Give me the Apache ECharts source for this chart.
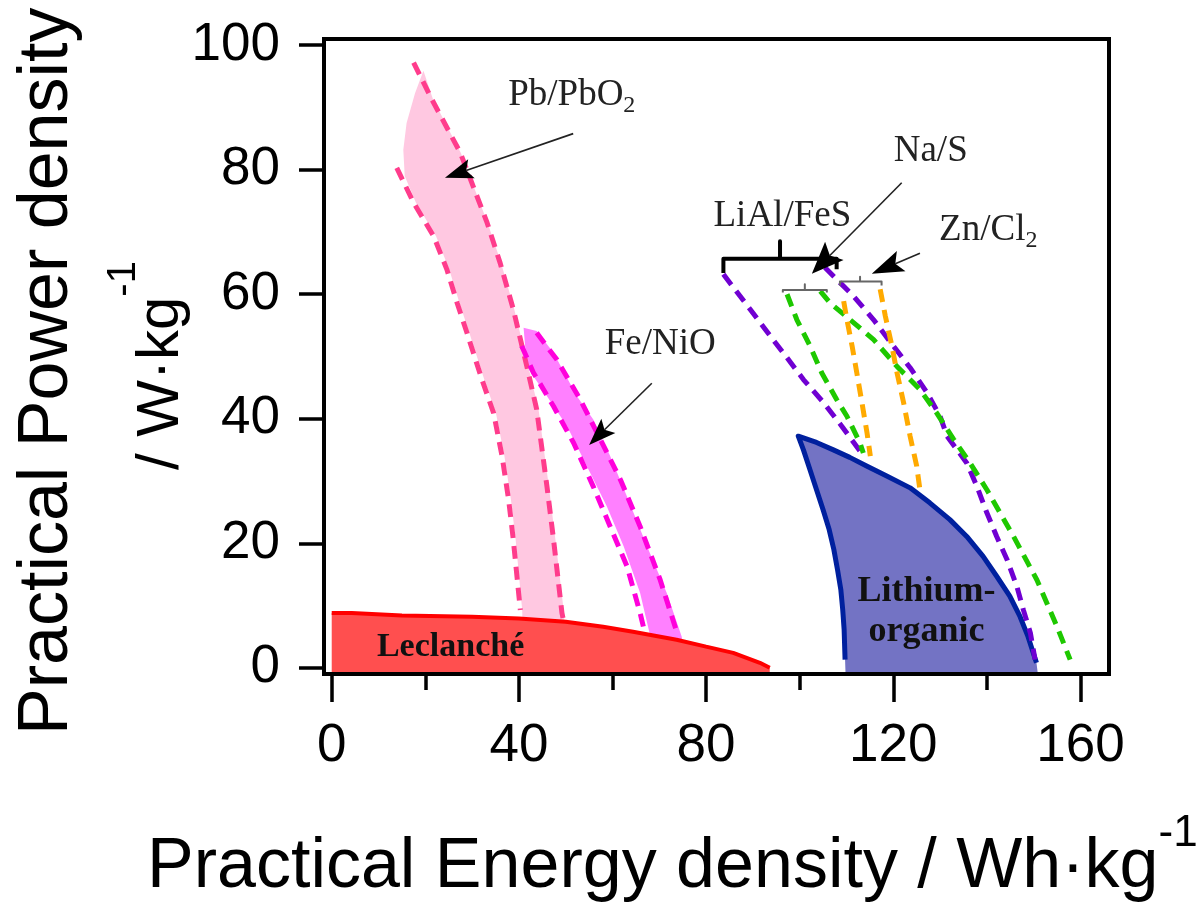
<!DOCTYPE html>
<html>
<head>
<meta charset="utf-8">
<script src="https://cdn.jsdelivr.net/npm/echarts@6/dist/echarts.min.js"></script>
<style>
  html, body { margin: 0; padding: 0; background: #fff; }
  #chart { width: 1200px; height: 909px; }
</style>
</head>
<body>
<div id="chart"></div>
<script>
// ---- axes: the frame sits a little outside the 0..160 / 0..100 range ----
const xRange = [-1.65, 166.1];
const yRange = [-1.0, 101.0];
const xMajorTicks = [0, 40, 80, 120, 160];
const xMinorTicks = [20, 60, 100, 140];
const yTicks = [0, 20, 40, 60, 80, 100];

// ---- Leclanché: upper boundary of the region (energy, power) ----
const leclancheTop = [[0, 8.8], [4.3, 8.8], [4.6, 8.5], [15, 8.4], [30, 8.2], [40, 7.9], [50, 7.4],
  [58, 6.6], [64.4, 5.8], [73.7, 4.5], [80, 3.4], [85.8, 2.4], [91.5, 0.8], [93.6, 0]];

// ---- Pb/PbO2 band ----
const pbBand = [[19.6, 95.9], [21.6, 91.4], [27.6, 82.7], [33.3, 71.5], [36.2, 65.0], [39.0, 57.6],
  [42.0, 48.4], [44.2, 41.5], [46.4, 29.1], [47.8, 20.6], [49.6, 9.0], [49.8, 6.5], [40.8, 6.5],
  [40.7, 9.3], [39.3, 20.6], [38.3, 27.0], [36.9, 34.0], [35.1, 40.9], [32.6, 46.3], [29.4, 53.8],
  [27.3, 58.6], [25.1, 64.0], [22.3, 69.3], [18.0, 74.7], [15.6, 79.0], [15.3, 83.2], [16.0, 87.5],
  [17.8, 92.3]];
const pbUpper = [[17.5, 97.2], [21.4, 91.3], [27.5, 82.7], [33.2, 71.5], [36.0, 65.0], [38.8, 57.6],
  [41.7, 48.4], [43.8, 41.5], [46.0, 29.1], [47.4, 20.6], [49.2, 8.8], [49.5, 7.7]];
const pbLower = [[13.9, 80.3], [17.5, 74.7], [21.8, 69.3], [24.6, 64.0], [26.8, 58.6], [28.9, 53.8],
  [32.1, 46.3], [34.6, 40.9], [36.4, 34.0], [37.8, 27.0], [38.8, 20.6], [40.3, 9.3]];

// ---- Fe/NiO band ----
const feBand = [[41.0, 54.6], [43.8, 54.1], [47.4, 50.6], [52.4, 43.6], [55.9, 39.9], [59.5, 34.0],
  [63.1, 27.5], [67.4, 19.5], [71.6, 12.0], [74.8, 5.0], [75.0, 3.5], [67.8, 3.5], [68.0, 5.3],
  [65.9, 12.0], [62.4, 19.5], [58.8, 25.9], [54.5, 32.4], [50.3, 38.8], [46.0, 43.6], [41.7, 48.4]];
const feUpper = [[43.8, 53.8], [48.1, 49.5], [53.1, 43.1], [57.4, 36.7], [61.7, 30.2], [65.9, 22.7],
  [70.2, 14.1], [73.8, 5.6]];
const feLower = [[40.6, 51.7], [43.1, 47.4], [47.4, 42.0], [51.7, 36.1], [55.9, 29.1], [59.5, 22.7],
  [63.1, 16.3], [65.9, 8.8], [66.6, 6.6]];

// ---- Lithium-organic region ----
const liOrgLeftEdge = [[109.8, -1.0], [109.7, 1.3], [109.5, 6.1], [109.2, 9.3], [108.8, 12.5],
  [108.1, 15.7], [107.3, 19.0], [106.3, 22.2], [105.0, 25.4], [103.6, 28.6], [102.2, 31.8],
  [100.8, 35.0], [99.7, 37.2]];
const liOrgRightEdge = [[99.7, 37.2], [103.6, 36.2], [107.2, 35.0], [110.7, 33.8], [114.3, 32.4],
  [118.6, 30.8], [123.6, 28.9], [127.8, 26.5], [132.1, 23.8], [135.7, 21.1], [139.2, 17.9],
  [142.1, 14.7], [144.9, 11.5], [147.1, 8.2], [148.8, 5.0], [150.6, 0.8], [150.9, -1.0]];

// ---- high-temperature systems (dashed envelopes) ----
const liAlLeft = [[83.7, 63.2], [89.4, 57.6], [93.7, 53.3], [97.3, 49.8], [100.8, 46.3], [105.1, 42.6],
  [109.0, 38.8], [113.5, 34.2]];
const liAlRight = [[105.4, 64.3], [107.9, 62.4], [111.5, 59.7], [115.8, 55.9], [120.0, 51.7], [123.6, 48.2],
  [127.2, 44.2], [130.0, 40.4], [131.5, 37.2], [135.7, 32.9], [137.9, 29.1], [140.0, 24.9], [142.1, 21.1],
  [144.3, 17.4], [146.4, 13.1], [147.8, 9.3], [149.3, 5.6], [150.3, 1.3]];
const naSLeft = [[97.3, 60.0], [99.4, 55.9], [102.2, 51.7], [104.7, 47.4], [107.9, 43.1], [110.1, 40.4],
  [112.9, 36.1], [113.6, 34.5]];
const naSRight = [[104.4, 60.5], [106.5, 58.6], [110.8, 55.9], [115.8, 52.7], [120.8, 48.4], [125.7, 44.7],
  [129.3, 40.9], [132.9, 36.7], [136.4, 32.9], [140.0, 28.6], [145.7, 21.1], [150.7, 14.1], [155.0, 6.6],
  [157.8, 1.3]];
const znLeft = [[109.4, 58.9], [110.1, 55.9], [111.2, 51.7], [112.2, 47.4], [113.3, 42.6], [114.4, 37.7],
  [115.1, 34.0]];
const znRight = [[117.2, 60.8], [118.3, 56.5], [119.7, 51.7], [120.8, 47.4], [122.2, 42.6], [123.6, 37.2],
  [125.0, 32.4], [125.7, 28.6]];

// ---- brackets grouping each pair of envelopes ----
const liAlBracket = [[83.7, 63.4], [83.7, 65.7], [95.8, 65.7], [95.8, 68.5], [95.8, 65.7], [107.9, 65.7], [107.9, 64.0]];
const naSBracket = [[96.4, 60.3], [96.4, 60.7], [101.1, 60.7], [101.1, 61.6], [101.1, 60.7], [105.8, 60.7], [105.8, 60.3]];
const znBracket = [[108.6, 61.4], [108.6, 62.05], [112.9, 62.05], [112.9, 62.8], [112.9, 62.05], [117.5, 62.05], [117.5, 61.4]];

// ---- annotation labels and arrows ----
const annotationText = ['Pb/PbO{s|2}', 'Fe/NiO', 'Na/S', 'LiAl/FeS', 'Zn/Cl{s|2}'];
const annotationAt = [[51.3, 91.9], [70.2, 52.0], [128.0, 82.9], [96.3, 72.5], [140.3, 70.2]];
const regionText = ['Leclanché', 'Lithium-\norganic'];
const regionAt = [[25.4, 3.3], [127.1, 9.0]];
const arrowFrom = [[51.6, 85.8], [68.4, 45.7], [121.8, 77.9], [125.7, 66.6]];
const arrowTo = [[24.2, 78.7], [55.0, 35.8], [102.6, 63.3], [115.4, 63.3]];

// ---- styling ----
const SANS = '"Liberation Sans", Arial, sans-serif';
const SERIF = '"Liberation Serif", "Times New Roman", serif';
const arrowHead = [[28, 10], [27, 10], [32, 13], [32, 11]];

function polygonSeries(points, fill, z) {
  return {
    type: 'custom', z: z, silent: true, clip: false,
    data: [points[0]],
    renderItem: function (params, api) {
      return { type: 'polygon', shape: { points: points.map(p => api.coord(p)) }, style: { fill: fill } };
    }
  };
}

function dashedSeries(points, color, z) {
  return {
    type: 'line', data: points, z: z, silent: true, showSymbol: false, symbol: 'none',
    lineStyle: { color: color, width: 5, type: [13, 8], cap: 'butt' }
  };
}

function solidSeries(points, color, width, z) {
  return {
    type: 'line', data: points, z: z, silent: true, showSymbol: false, symbol: 'none',
    lineStyle: { color: color, width: width, cap: 'butt', join: 'round' }
  };
}

const liOrgFill = liOrgLeftEdge.concat(liOrgRightEdge.slice(1));
const liOrgBorder = liOrgLeftEdge.slice(1).concat(liOrgRightEdge.slice(1, -1));

const option = {
  animation: false,
  backgroundColor: '#fff',
  grid: {
    left: 324, right: 91, top: 39, bottom: 235,
    show: true, z: 20, borderColor: '#000', borderWidth: 4, backgroundColor: 'transparent'
  },
  xAxis: [{
    type: 'value', min: xRange[0], max: xRange[1], position: 'bottom',
    axisLine: { show: false, onZero: false },
    splitLine: { show: false },
    axisTick: { show: true, customValues: xMajorTicks, length: 28, lineStyle: { color: '#000', width: 3.5 } },
    axisLabel: { show: true, customValues: xMajorTicks, margin: 46, fontSize: 53, fontFamily: SANS, color: '#000' }
  }, {
    type: 'value', min: xRange[0], max: xRange[1], position: 'bottom',
    axisLine: { show: false, onZero: false },
    splitLine: { show: false },
    axisTick: { show: true, customValues: xMinorTicks, length: 16, lineStyle: { color: '#000', width: 3.5 } },
    axisLabel: { show: false }
  }],
  yAxis: [{
    type: 'value', min: yRange[0], max: yRange[1], position: 'left',
    axisLine: { show: false, onZero: false },
    splitLine: { show: false },
    axisTick: { show: true, customValues: yTicks, length: 25, lineStyle: { color: '#000', width: 3.5 } },
    axisLabel: { show: true, customValues: yTicks, margin: 44, fontSize: 53, fontFamily: SANS, color: '#000' }
  }],
  graphic: [{
    type: 'text', x: 147, y: 868, z: 50,
    style: {
      text: '{m|Practical Energy density / Wh·kg}{p|-1}',
      fill: '#000', align: 'left', verticalAlign: 'middle',
      rich: {
        m: { fontSize: 70, fontFamily: SANS, lineHeight: 112, verticalAlign: 'middle', fill: '#000' },
        p: { fontSize: 44, fontFamily: SANS, lineHeight: 44, verticalAlign: 'top', fill: '#000' }
      }
    }
  }, {
    type: 'text', x: 48, y: 735, z: 50, rotation: Math.PI / 2,
    style: {
      text: 'Practical Power density', fill: '#000', align: 'left', verticalAlign: 'middle',
      fontSize: 70, fontFamily: SANS
    }
  }, {
    type: 'text', x: 161, y: 470, z: 50, rotation: Math.PI / 2,
    style: {
      text: '{m|/ W·kg}{p|-1}', fill: '#000', align: 'left', verticalAlign: 'middle',
      rich: {
        m: { fontSize: 60, fontFamily: SANS, lineHeight: 114, verticalAlign: 'middle', fill: '#000' },
        p: { fontSize: 40, fontFamily: SANS, lineHeight: 40, verticalAlign: 'top', fill: '#000' }
      }
    }
  }],
  series: [
    polygonSeries(pbBand, '#ffc8e1', 1),
    polygonSeries(feBand, '#ff80ff', 2),
    polygonSeries(liOrgFill, '#7373c4', 2),
    dashedSeries(pbUpper, '#ff3c8c', 4),
    dashedSeries(pbLower, '#ff3c8c', 4),
    dashedSeries(feUpper, '#ff00dc', 4),
    dashedSeries(feLower, '#ff00dc', 4),
    solidSeries(liOrgBorder, '#00209e', 5, 5),
    dashedSeries(liAlLeft, '#7000d2', 6),
    dashedSeries(liAlRight, '#7000d2', 6),
    dashedSeries(naSLeft, '#1ec800', 6),
    dashedSeries(naSRight, '#1ec800', 6),
    dashedSeries(znLeft, '#ffaa00', 6),
    dashedSeries(znRight, '#ffaa00', 6),
    {
      type: 'line', data: leclancheTop, z: 8, silent: true, showSymbol: false, symbol: 'none',
      lineStyle: { color: '#ff0000', width: 4 },
      areaStyle: { color: '#ff4f4f', opacity: 1, origin: 'start' }
    },
    solidSeries(liAlBracket, '#000', 4, 9),
    solidSeries(naSBracket, '#666', 2, 9),
    solidSeries(znBracket, '#666', 2, 9),
    {
      type: 'custom', z: 12, silent: true, clip: false,
      data: arrowTo,
      renderItem: function (params, api) {
        const i = params.dataIndex;
        const a = api.coord(arrowFrom[i]);
        const b = api.coord(arrowTo[i]);
        const len = Math.hypot(b[0] - a[0], b[1] - a[1]);
        const ux = (b[0] - a[0]) / len, uy = (b[1] - a[1]) / len;
        const px = -uy, py = ux;
        const L = arrowHead[i][0], W = arrowHead[i][1];
        const base = [b[0] - ux * L, b[1] - uy * L];
        const notch = [b[0] - ux * L * 0.8, b[1] - uy * L * 0.8];
        return {
          type: 'group', children: [
            { type: 'line', shape: { x1: a[0], y1: a[1], x2: notch[0], y2: notch[1] },
              style: { stroke: '#222', lineWidth: 1.6 } },
            { type: 'polygon',
              shape: { points: [b, [base[0] + px * W, base[1] + py * W], notch, [base[0] - px * W, base[1] - py * W]] },
              style: { fill: '#000' } }
          ]
        };
      }
    },
    {
      type: 'custom', z: 14, silent: true, clip: false,
      data: annotationAt,
      renderItem: function (params, api) {
        const p = api.coord(annotationAt[params.dataIndex]);
        return {
          type: 'text', x: p[0], y: p[1],
          style: {
            text: annotationText[params.dataIndex],
            align: 'center', verticalAlign: 'middle', fill: '#222',
            fontSize: 37, fontFamily: SERIF, lineHeight: 44,
            rich: {
              s: { fontSize: 24, fontFamily: SERIF, lineHeight: 24, verticalAlign: 'bottom', fill: '#222' }
            }
          }
        };
      }
    },
    {
      type: 'custom', z: 14, silent: true, clip: false,
      data: regionAt,
      renderItem: function (params, api) {
        const p = api.coord(regionAt[params.dataIndex]);
        const big = params.dataIndex === 1;
        return {
          type: 'text', x: p[0], y: p[1],
          style: {
            text: regionText[params.dataIndex], align: 'center', verticalAlign: 'middle',
            fontSize: big ? 36 : 34, fontWeight: 'bold', fontFamily: SERIF, lineHeight: big ? 40 : 38,
            fill: '#111'
          }
        };
      }
    }
  ]
};

const chart = echarts.init(document.getElementById('chart'), null, { renderer: 'canvas' });
chart.setOption(option);
</script>
</body>
</html>
